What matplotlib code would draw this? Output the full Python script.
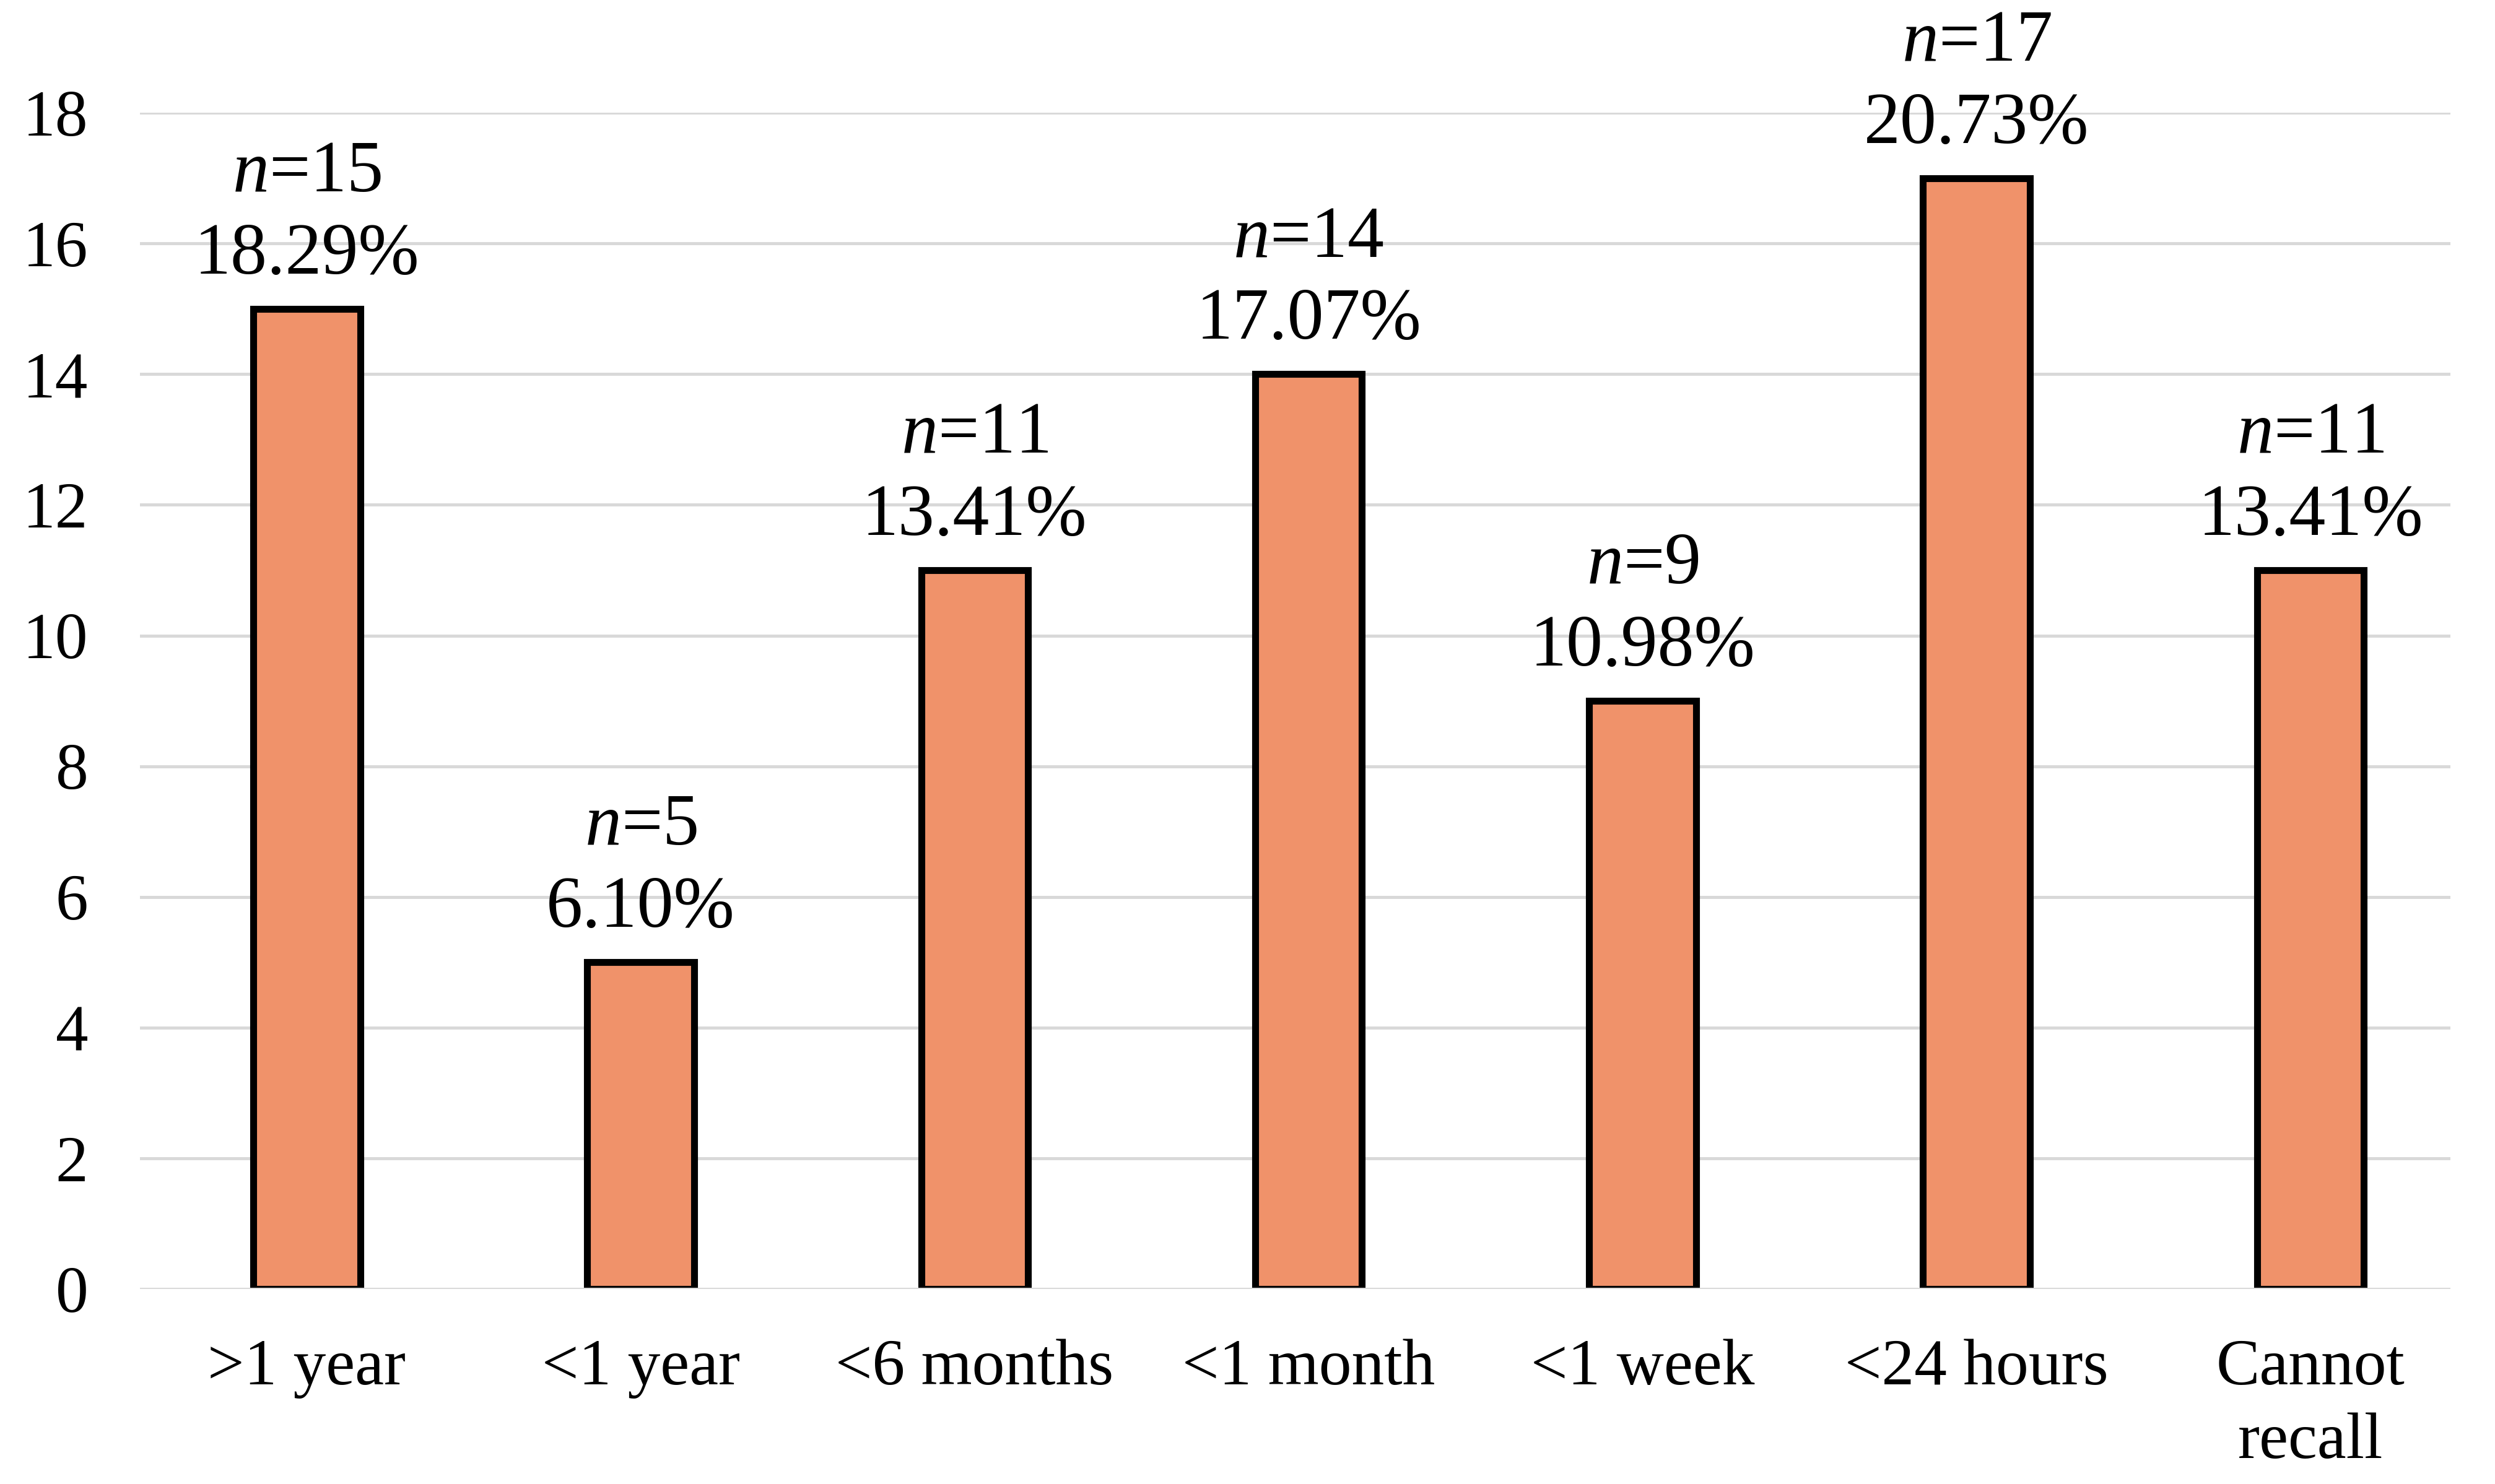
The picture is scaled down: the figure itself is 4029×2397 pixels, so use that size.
import matplotlib.pyplot as plt
import numpy as np

categories = [">1 year", "<1 year", "<6 months", "<1 month", "<1 week", "<24 hours", "Cannot\nrecall"]
counts = [15, 5, 11, 14, 9, 17, 11]
percents = ["18.29%", "6.10%", "13.41%", "17.07%", "10.98%", "20.73%", "13.41%"]
yticks = [0, 2, 4, 6, 8, 10, 12, 14, 16, 18]

plt.rcParams['font.family'] = ['Liberation Serif', 'DejaVu Serif']
plt.rcParams['mathtext.fontset'] = 'custom'
plt.rcParams['mathtext.it'] = 'Liberation Serif:italic'
plt.rcParams['mathtext.rm'] = 'Liberation Serif'

fig = plt.figure(figsize=(40.3, 23.97), dpi=100)
ax = fig.add_axes([0.056, 0.1314, 0.926, 0.7926])

x = np.arange(len(categories))
ax.bar(x, counts, width=0.32, color="#F0926A", edgecolor="black", linewidth=8, zorder=2)
ax.axhline(0, color="#d9d9d9", linewidth=3.6, zorder=3)

ax.set_xlim(-0.5, 6.42)
ax.set_ylim(0, 18)
ax.set_yticks(yticks)
ax.set_xticks(x)
ax.set_xticklabels(categories, linespacing=1.3)
ax.tick_params(axis='both', length=0, labelsize=76)
ax.tick_params(axis='y', pad=60)
ax.tick_params(axis='x', pad=58)
ax.yaxis.grid(True, color="#d9d9d9", linewidth=3.6, zorder=0)
ax.set_axisbelow(True)
for s in ax.spines.values():
    s.set_visible(False)

for i in range(len(categories)):
    ax.annotate(percents[i], (x[i], counts[i]), xytext=(0, 41), textcoords='offset points',
                ha='center', va='baseline', fontsize=85, annotation_clip=False)
    ax.annotate("$n$=" + str(counts[i]), (x[i], counts[i]), xytext=(0, 41 + 96), textcoords='offset points',
                ha='center', va='baseline', fontsize=85, annotation_clip=False)

fig.savefig("out.png", dpi=100)
